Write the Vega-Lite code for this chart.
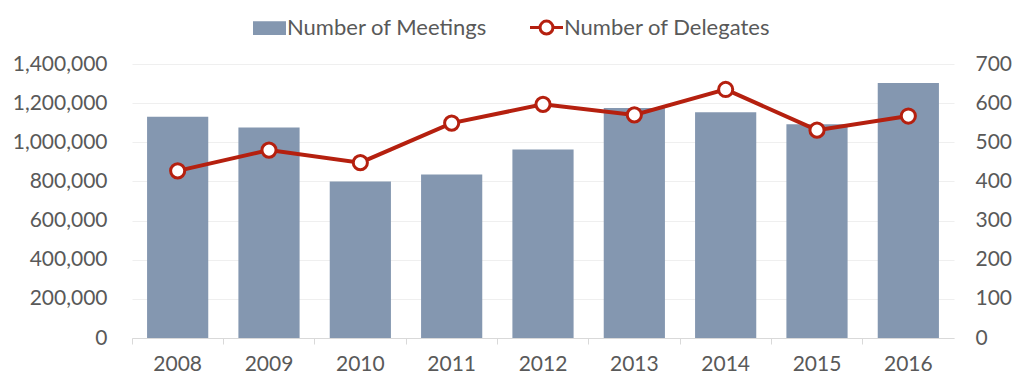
{
  "$schema": "https://vega.github.io/schema/vega-lite/v6.json",
  "width": 822,
  "height": 274,
  "autosize": "none",
  "padding": {"left": 132, "top": 64, "right": 70, "bottom": 49},
  "background": "white",
  "config": {
    "view": {"stroke": null},
    "font": "Lato",
    "axis": {"labelFont": "Lato", "labelFontSize": 21, "labelColor": "#595959", "labelOverlap": false},
    "legend": {"labelFont": "Lato"}
  },
  "data": {
    "values": [
      {"year": "2008", "meetings": 1130000, "delegates": 427},
      {"year": "2009", "meetings": 1075000, "delegates": 480},
      {"year": "2010", "meetings": 800000, "delegates": 448},
      {"year": "2011", "meetings": 836000, "delegates": 549},
      {"year": "2012", "meetings": 963000, "delegates": 597},
      {"year": "2013", "meetings": 1175000, "delegates": 570},
      {"year": "2014", "meetings": 1153000, "delegates": 635},
      {"year": "2015", "meetings": 1092000, "delegates": 531},
      {"year": "2016", "meetings": 1303000, "delegates": 567}
    ]
  },
  "encoding": {
    "x": {
      "field": "year",
      "type": "ordinal",
      "scale": {"paddingInner": 0, "paddingOuter": 0},
      "axis": {
        "title": null,
        "labelAngle": 0,
        "bandPosition": 0,
        "domainColor": "#D9D9D9",
        "tickColor": "#D9D9D9",
        "tickSize": 6,
        "labelPadding": 9,
        "grid": false
      }
    }
  },
  "layer": [
    {
      "mark": {"type": "bar", "width": {"band": 0.67}, "color": "#8497B0"},
      "encoding": {
        "y": {
          "field": "meetings",
          "type": "quantitative",
          "scale": {"domain": [0, 1400000]},
          "axis": {
            "title": null,
            "values": [0, 200000, 400000, 600000, 800000, 1000000, 1200000, 1400000],
            "labelExpr": "format(datum.value, ',')",
            "labelOverlap": false,
            "domain": false,
            "ticks": false,
            "labelPadding": 25,
            "grid": true,
            "gridColor": "#EFEFEF",
            "gridWidth": 1
          }
        }
      }
    },
    {
      "encoding": {
        "y": {
          "field": "delegates",
          "type": "quantitative",
          "scale": {"domain": [0, 700]},
          "axis": {
            "title": null,
            "orient": "right",
            "values": [0, 100, 200, 300, 400, 500, 600, 700],
            "domain": false,
            "ticks": false,
            "grid": false,
            "labelPadding": 21
          }
        }
      },
      "layer": [
        {
          "mark": {"type": "line", "strokeWidth": 4},
          "encoding": {
            "color": {
              "datum": "Number of Delegates",
              "type": "nominal",
              "scale": {"domain": ["Number of Meetings", "Number of Delegates"], "range": ["#8497B0", "#B5200F"]},
              "legend": {
                "title": null,
                "orient": "none",
                "direction": "horizontal",
                "legendX": 121,
                "legendY": -53,
                "labelFontSize": 22,
                "labelLimit": 400,
                "labelColor": "#595959",
                "symbolSize": 900,
                "columnPadding": 36,
                "labelOffset": 1,
                "encode": {
                  "symbols": {
                    "update": {
                      "shape": {"signal": "datum.value === 'Number of Meetings' ? 'M-1,-0.36H1V0.36H-1Z' : 'M-1.1,0H-0.43M0.43,0H1.1M0.43,0A0.43,0.43,0,1,1,-0.43,0A0.43,0.43,0,1,1,0.43,0Z'"},
                      "fill": {"signal": "datum.value === 'Number of Meetings' ? '#8497B0' : 'white'"},
                      "stroke": {"signal": "datum.value === 'Number of Meetings' ? 'transparent' : '#B5200F'"},
                      "strokeWidth": {"value": 3},
                      "opacity": {"value": 1},
                      "fillOpacity": {"value": 1},
                      "strokeOpacity": {"value": 1}
                    }
                  }
                }
              }
            }
          }
        },
        {
          "mark": {"type": "point", "filled": true, "fill": "white", "stroke": "#B5200F", "strokeWidth": 3, "size": 200, "opacity": 1}
        }
      ]
    }
  ],
  "resolve": {"scale": {"y": "independent"}}
}
